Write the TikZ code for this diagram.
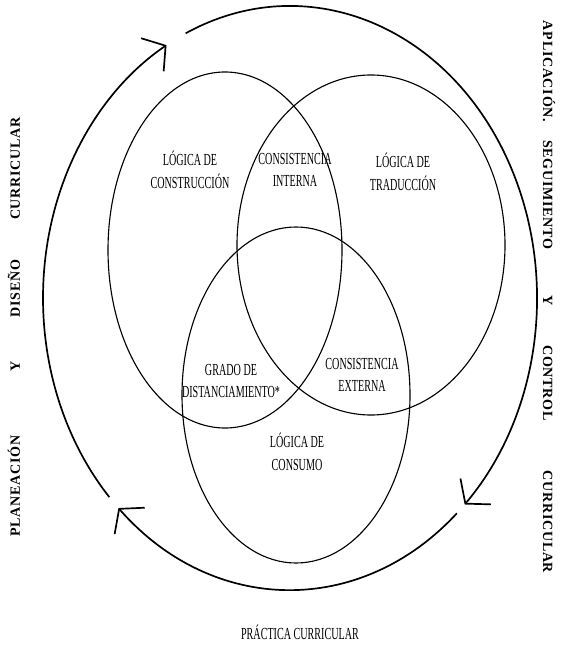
\documentclass[tikz,border=0pt]{standalone}
\usepackage{fontspec}
\setmainfont{Liberation Serif}
\newfontfamily\condfont[FakeStretch=0.6]{Liberation Serif}
\newfontfamily\sidefont[LetterSpace=5]{Liberation Serif}
\usetikzlibrary{arrows.meta}
\tikzset{
	every node/.style = { align = center, inner sep=0pt },
	zone/.style = { line width=0.8pt },
	ring/.style = { line width=1.2pt, -{Straight Barb[length=4mm,width=10mm,line width=1.2pt]} },
	lbl/.style = { font=\condfont\fontsize{12}{16}\selectfont },
	side/.style = { font=\sidefont\bfseries\fontsize{10}{12}\selectfont },
}

\begin{document}
\begin{tikzpicture}[x=0.025cm, y=-0.025cm]
\useasboundingbox (0,0) rectangle (572,648);

% the three logics
\draw[zone] (225,250) ellipse [x radius=117, y radius=178];
\draw[zone] (371,245) ellipse [x radius=134, y radius=170];
\draw[zone] (296,395) ellipse [x radius=114, y radius=168];

% outer cycle
\coordinate (mid) at (290,298);
\draw[ring] ([shift={(137:247 and 292)}]mid) arc[start angle=137, end angle=240, x radius=247, y radius=292];
\draw[ring] ([shift={(245:247 and 292)}]mid) arc[start angle=245, end angle=405, x radius=247, y radius=292];
\draw[ring] ([shift={(407.5:247 and 292)}]mid) arc[start angle=407.5, end angle=494, x radius=247, y radius=292];

\node (lcon)  [lbl] at (190,170) {LÓGICA DE\\CONSTRUCCIÓN};
\node (cint)  [lbl] at (295,170) {CONSISTENCIA\\INTERNA};
\node (ltra)  [lbl] at (403,172) {LÓGICA DE\\TRADUCCIÓN};
\node (grad)  [lbl] at (231,381) {GRADO DE\\DISTANCIAMIENTO*};
\node (cext)  [lbl] at (362,375) {CONSISTENCIA\\EXTERNA};
\node (lcsm)  [lbl] at (297,452) {LÓGICA DE\\CONSUMO};
\node (prac)  [lbl] at (300,632) {PRÁCTICA CURRICULAR};

\node (plan)  [side,rotate=90]  at (14,327)  {PLANEACIÓN\hspace{1.6cm}Y\hspace{1.1cm}DISEÑO\hspace{1cm}CURRICULAR};
\node (apli)  [side,rotate=-90] at (549,297) {APLICACIÓN.\hspace{0.45cm}SEGUIMIENTO\hspace{1.15cm}Y\hspace{1cm}CONTROL\hspace{1.25cm}CURRICULAR};

\end{tikzpicture}
\end{document}
